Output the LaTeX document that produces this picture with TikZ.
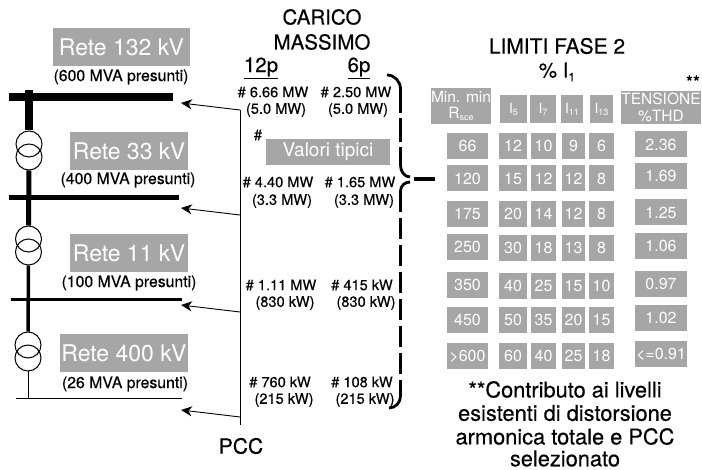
\documentclass[tikz,border=0pt]{standalone}
\usepackage{fontspec}
\setmainfont{TeX Gyre Heros}[BoldFont={TeX Gyre Heros},BoldFeatures={FakeBold=0.35}]
\definecolor{boxgrey}{HTML}{A6A6A6}
\newcommand{\fsize}[1]{\fontsize{#1}{#1}\selectfont}
\newcommand{\smallsub}[1]{\raisebox{-2pt}{\fsize{9}#1}}
\tikzset{
  greybox/.style={fill=boxgrey,text=white,inner sep=0pt,outer sep=0pt,align=center},
  netbox/.style={greybox,font=\fsize{23},minimum height=38pt},
  cellbox/.style={greybox,font=\fsize{16},minimum height=26pt},
  loadtext/.style={inner sep=0pt,font=\bfseries\fsize{14.6}},
  mvatext/.style={inner sep=0pt,font=\bfseries\fsize{15.8}},
  headtext/.style={inner sep=0pt,font=\bfseries\fsize{20.5},align=center},
  notetext/.style={inner sep=0pt,font=\bfseries\fsize{21.8},align=center},
  trafo/.style={draw,circle,minimum size=26pt,inner sep=0pt,line width=1pt},
  pccarrow/.style={-{Stealth[length=11pt,width=10pt]},line width=0.9pt},
  bracedash/.style={line width=3.6pt},
  bracecurve/.style={line width=2.8pt},
}
\usetikzlibrary{arrows.meta}
\begin{document}
\begin{tikzpicture}[x=1pt,y=-1pt]
  \useasboundingbox (0,0) rectangle (702,470);
  % network side
  \node[netbox,minimum width=137pt] (net132) at (121.5,47) {Rete 132 kV};
  \node[mvatext] (mva132) at (121,77) {(600 MVA presunti)};
  \node[netbox,minimum width=118pt] (net33) at (129,151) {Rete 33 kV};
  \node[mvatext] (mva33) at (128,180) {(400 MVA presunti)};
  \node[netbox,minimum width=118pt] (net11) at (129,253) {Rete 11 kV};
  \node[mvatext] (mva11) at (129,283) {(100 MVA presunti)};
  \node[netbox,minimum width=128pt] (net400) at (124,353) {Rete 400 kV};
  \node[mvatext] (mva400) at (125,384) {(26 MVA presunti)};
  % transformers
  \node[trafo] (ta1) at (29,144) {};
  \node[trafo] (ta2) at (29,157) {};
  \node[trafo] (tb1) at (28.5,239) {};
  \node[trafo] (tb2) at (28.5,252) {};
  \node[trafo] (tc1) at (28,345) {};
  \node[trafo] (tc2) at (28,358) {};
  % bus bars
  \coordinate (bus1l) at (9,97);
  \coordinate (bus1r) at (173,97);
  \coordinate (bus2l) at (9,197.5);
  \coordinate (bus2r) at (179,197.5);
  \coordinate (bus3l) at (11,299.5);
  \coordinate (bus3r) at (182,299.5);
  \coordinate (bus4l) at (16,398.5);
  \coordinate (bus4r) at (182,398.5);
  \coordinate (feedtop) at (29,90);
  \coordinate (feed4) at (28,398.5);
  \draw[line width=8pt] (bus1l) -- (bus1r);
  \draw[line width=5pt] (bus2l) -- (bus2r);
  \draw[line width=3pt] (bus3l) -- (bus3r);
  \draw[line width=1pt] (bus4l) -- (bus4r);
  \draw[line width=8pt] (feedtop) -- (ta1.north);
  \draw[line width=5pt] (ta2.south) -- (tb1.north);
  \draw[line width=3.5pt] (tb2.south) -- (tc1.north);
  \draw[line width=1pt] (tc2.south) -- (feed4);
  % PCC
  \coordinate (pcctop) at (240,110);
  \coordinate (pccb) at (240,215);
  \coordinate (pccc) at (240,312);
  \coordinate (pccd) at (240,417);
  \coordinate (pccend) at (240,425);
  \coordinate (arra) at (181,103);
  \coordinate (arrb) at (181,208);
  \coordinate (arrc) at (181,305);
  \coordinate (arrd) at (181,410);
  \draw[line width=0.9pt] (pcctop) -- (pccend);
  \draw[pccarrow] (pcctop) -- (arra);
  \draw[pccarrow] (pccb) -- (arrb);
  \draw[pccarrow] (pccc) -- (arrc);
  \draw[pccarrow] (pccd) -- (arrd);
  \node[headtext,font=\bfseries\fsize{21}] (pcc) at (241,446) {PCC};
  % max load
  \node[headtext] (carico) at (322,17) {CARICO};
  \node[headtext] (massimo) at (322,42) {MASSIMO};
  \node[headtext] (p12) at (261,68) {\underline{12p}};
  \node[headtext] (p6) at (359,68) {\underline{6p}};
  \node[loadtext] (a12) at (273,92) {\# 6.66 MW};
  \node[loadtext] (a12b) at (276,110) {(5.0 MW)};
  \node[loadtext] (a6) at (356,92) {\# 2.50 MW};
  \node[loadtext] (a6b) at (358,110) {(5.0 MW)};
  \node[loadtext] (hash) at (258,135) {\#};
  \node[greybox,font=\fsize{19},minimum width=124pt,minimum height=26pt] (tipici) at (328,152) {Valori tipici};
  \node[loadtext] (b12) at (278,182) {\# 4.40 MW};
  \node[loadtext] (b12b) at (282,201) {(3.3 MW)};
  \node[loadtext] (b6) at (360,182) {\# 1.65 MW};
  \node[loadtext] (b6b) at (364,201) {(3.3 MW)};
  \node[loadtext] (c12) at (281,285) {\# 1.11 MW};
  \node[loadtext] (c12b) at (285,303) {(830 kW)};
  \node[loadtext] (c6) at (362,285) {\# 415 kW};
  \node[loadtext] (c6b) at (366,303) {(830 kW)};
  \node[loadtext] (d12) at (280,382) {\# 760 kW};
  \node[loadtext] (d12b) at (284,400) {(215 kW)};
  \node[loadtext] (d6) at (362,382) {\# 108 kW};
  \node[loadtext] (d6b) at (365,400) {(215 kW)};
  % brace
  \coordinate (bracetop) at (387,75);
  \coordinate (braceua) at (400.5,89);
  \coordinate (braceub) at (400.5,165);
  \coordinate (bracemida) at (410,177);
  \coordinate (bracemidb) at (410,182);
  \coordinate (braceuc) at (400.5,191);
  \coordinate (braceud) at (400.5,396);
  \coordinate (bracebot) at (389,408);
  \coordinate (stubl) at (414,179);
  \coordinate (stubr) at (435,179);
  \draw[bracecurve] (bracetop) to[out=0,in=90] (braceua);
  \draw[bracedash,dash pattern=on 24pt off 5pt] (braceua) -- (braceub);
  \draw[bracecurve] (braceub) to[out=-90,in=180] (bracemida);
  \draw[bracecurve] (bracemidb) to[out=180,in=90] (braceuc);
  \draw[bracedash,dash pattern=on 21.5pt off 5.5pt] (braceuc) -- (braceud);
  \draw[bracecurve] (braceud) to[out=-90,in=0] (bracebot);
  \draw[bracedash] (stubl) -- (stubr);
  % limits
  \node[headtext,font=\bfseries\fsize{21}] (limiti) at (557,46) {LIMITI FASE 2};
  \node[headtext] (perc) at (557,72) {\% I\raisebox{-4pt}{\fsize{12}1}};
  \node[inner sep=0pt,font=\bfseries\fsize{18}] (stars) at (693,82) {**};
  \node[greybox,font=\fsize{15.5},minimum width=54pt,minimum height=36pt] (rsce) at (461,106) {Min. min\\[1pt]R\smallsub{sce}};
  \node[greybox,font=\fsize{14},minimum width=27pt,minimum height=28pt] (i5) at (513.5,109) {I\smallsub{5}};
  \node[greybox,font=\fsize{14},minimum width=26pt,minimum height=28pt] (i7) at (543,109) {I\smallsub{7}};
  \node[greybox,font=\fsize{14},minimum width=22pt,minimum height=28pt] (i11) at (572,109) {I\smallsub{11}};
  \node[greybox,font=\fsize{14},minimum width=23pt,minimum height=28pt] (i13) at (601.5,109) {I\smallsub{13}};
  \node[greybox,font=\fsize{15.5},minimum width=80pt,minimum height=33pt] (thd) at (661,107.5) {TENSIONE\\[1pt]\%THD};
  \foreach \row/\yy/\ya/\yt/\rs/\ia/\ib/\ic/\id/\tv in {
      a/146/146/144.5/66/12/10/9/6/2.36,
      b/178.5/178.5/176/120/15/12/12/8/1.69,
      c/214/214/212.5/175/20/14/12/8/1.25,
      d/248/247/246/250/30/18/13/8/1.06,
      e/286/285/284/350/40/25/15/10/0.97,
      f/320/320/318/450/50/35/20/15/1.02,
      g/356/356/354/{>}600/60/40/25/18/{<=}0.91} {
    \node[cellbox,minimum width=41pt] (rs\row) at (467.5,\ya) {\rs};
    \node[cellbox,minimum width=28pt] (ia\row) at (513,\yy) {\ia};
    \node[cellbox,minimum width=25pt] (ib\row) at (543.5,\yy) {\ib};
    \node[cellbox,minimum width=23pt] (ic\row) at (573.5,\yy) {\ic};
    \node[cellbox,minimum width=25pt] (id\row) at (601.5,\yy) {\id};
    \node[cellbox,minimum width=52pt] (tv\row) at (661,\yt) {\tv};
  }
  % note
  \node[notetext] (notea) at (565,389.5) {**Contributo ai livelli};
  \node[notetext] (noteb) at (565,413) {esistenti di distorsione};
  \node[notetext] (notec) at (565,436.5) {armonica totale e PCC};
  \node[notetext] (noted) at (565,458.5) {selezionato};
\end{tikzpicture}
\end{document}
